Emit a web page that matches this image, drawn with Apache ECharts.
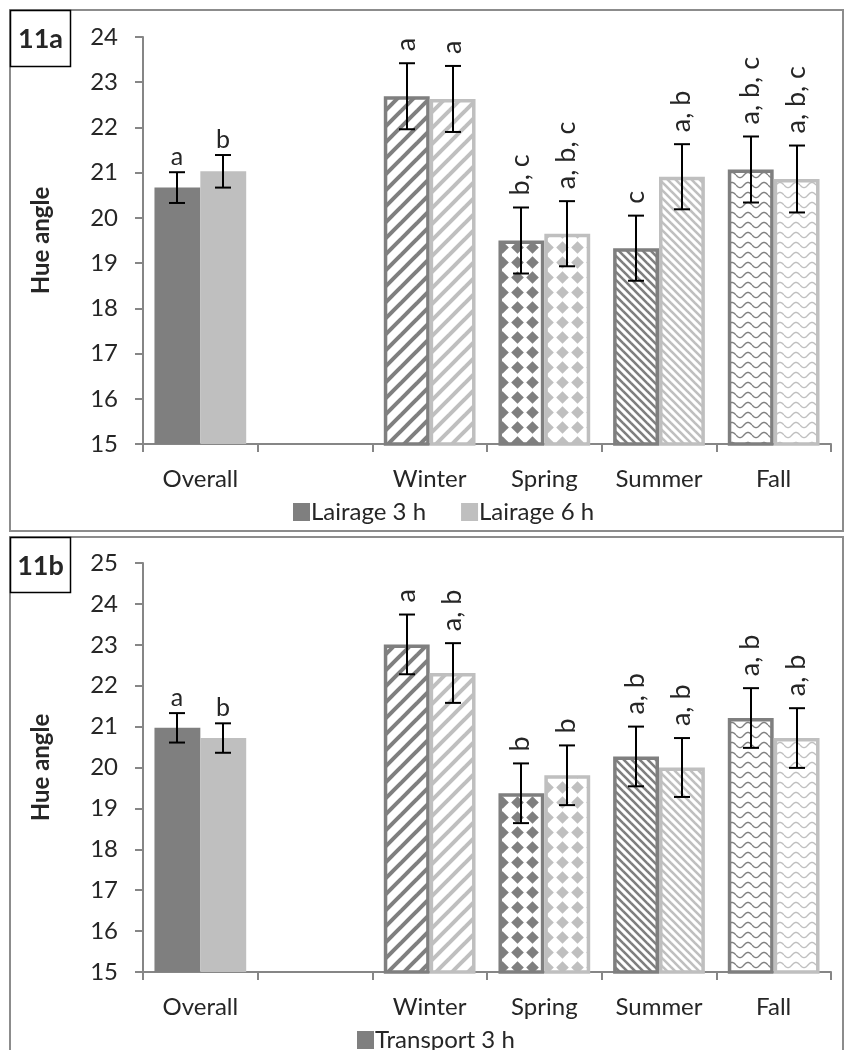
<!DOCTYPE html>
<html>
<head>
<meta charset="utf-8">
<script src="https://cdn.jsdelivr.net/npm/echarts@6/dist/echarts.min.js"></script>
<style>
  html, body { margin: 0; padding: 0; background: #ffffff; }
  #chart { width: 845px; height: 1050px; }
</style>
</head>
<body>
<div id="chart"></div>
<script>
// Categories (the empty slot separates the overall mean from the seasons)
const categories = ['Overall', '', 'Winter', 'Spring', 'Summer', 'Fall'];

// Fill style used for each category
const fillKinds = ['solid', null, 'wideUp', 'diamond', 'narrowDown', 'wave'];

// Panel 11a — lairage time
const lairage3 = [20.67, null, 22.69, 19.50, 19.33, 21.07];
const lairage3Err = [0.34, null, 0.73, 0.73, 0.72, 0.73];
const lairage3Letters = ['a', '', 'a', 'b, c', 'c', 'a, b, c'];
const lairage6 = [21.03, null, 22.63, 19.65, 20.91, 20.86];
const lairage6Err = [0.36, null, 0.73, 0.72, 0.72, 0.74];
const lairage6Letters = ['b', '', 'a', 'a, b, c', 'a, b', 'a, b, c'];

// Panel 11b — transport time
const transport3 = [20.97, null, 23.01, 19.37, 20.27, 21.21];
const transport3Err = [0.36, null, 0.73, 0.73, 0.73, 0.73];
const transport3Letters = ['a', '', 'a', 'b', 'a, b', 'a, b'];
const transport6 = [20.72, null, 22.31, 19.81, 20.00, 20.72];
const transport6Err = [0.36, null, 0.73, 0.73, 0.72, 0.73];
const transport6Letters = ['b', '', 'a, b', 'b', 'a, b', 'a, b'];

// Value axis ranges
const rangeA = [15, 24];
const rangeB = [15, 25];

const DARK = '#7f7f7f';
const LIGHT = '#bfbfbf';
const TEXT = '#262626';
const AXIS = '#868686';
const FONT = 'Lato';

// ---- hatch / pattern tiles ----
function makeTile(kind, color) {
  const c = document.createElement('canvas');
  let w = 16, h = 16;
  if (kind === 'narrowDown') { w = 8; h = 8; }
  if (kind === 'diamond') { w = 15; h = 15; }
  if (kind === 'wave') { w = 16; h = 10; }
  c.width = w; c.height = h;
  const g = c.getContext('2d');
  g.fillStyle = '#ffffff';
  g.fillRect(0, 0, w, h);
  g.strokeStyle = color;
  g.fillStyle = color;
  if (kind === 'wideUp') {
    g.lineWidth = 4;
    for (let k = -1; k <= 1; k++) {
      g.beginPath();
      g.moveTo(k * w - 2, h + 2);
      g.lineTo(k * w + w + 2, -2);
      g.stroke();
    }
  } else if (kind === 'narrowDown') {
    g.lineWidth = 2.6;
    for (let k = -1; k <= 1; k++) {
      g.beginPath();
      g.moveTo(k * w - 2, -2);
      g.lineTo(k * w + w + 2, h + 2);
      g.stroke();
    }
  } else if (kind === 'diamond') {
    const cx = w / 2, cy = h / 2, r = 6.3;
    g.beginPath();
    g.moveTo(cx, cy - r);
    g.lineTo(cx + r, cy);
    g.lineTo(cx, cy + r);
    g.lineTo(cx - r, cy);
    g.closePath();
    g.fill();
  } else if (kind === 'wave') {
    g.lineWidth = 1.4;
    g.beginPath();
    for (let x = 0; x <= w; x += 0.5) {
      const y = h / 2 + 2.6 * Math.sin((x / w) * Math.PI * 2);
      if (x === 0) g.moveTo(x, y); else g.lineTo(x, y);
    }
    g.stroke();
  }
  return c;
}

function barData(values, color) {
  return values.map((v, i) => {
    if (v == null) return null;
    const kind = fillKinds[i];
    if (kind === 'solid') {
      return { value: v, itemStyle: { color: color } };
    }
    return {
      value: v,
      itemStyle: {
        color: { image: makeTile(kind, color), repeat: 'repeat' },
        borderColor: color,
        borderWidth: 3.5
      }
    };
  });
}

// error bars with significance letters, drawn with a custom series
function errorSeries(values, errs, letters, side, xi) {
  const data = [];
  const labels = [];
  values.forEach((v, i) => {
    if (v == null) return;
    data.push([i, v, errs[i]]);
    labels.push(letters[i]);
  });
  return {
    type: 'custom',
    xAxisIndex: xi,
    yAxisIndex: xi,
    clip: false,
    z: 5,
    silent: true,
    data: data,
    renderItem: function (params, api) {
      const ci = api.value(0), v = api.value(1), e = api.value(2);
      const band = api.size([1, 0])[0];
      const x = Math.round(api.coord([ci, v])[0] + side * band * 0.2);
      const yTop = api.coord([ci, v + e])[1];
      const yBot = api.coord([ci, v - e])[1];
      const cap = 8;
      const line = { stroke: '#000000', lineWidth: 2 };
      const text = labels[params.dataIndex];
      const horizontal = categories[ci] === 'Overall';
      const children = [
        { type: 'line', shape: { x1: x, y1: yTop, x2: x, y2: yBot }, style: line },
        { type: 'line', shape: { x1: x - cap, y1: yTop, x2: x + cap, y2: yTop }, style: line },
        { type: 'line', shape: { x1: x - cap, y1: yBot, x2: x + cap, y2: yBot }, style: line }
      ];
      if (horizontal) {
        children.push({
          type: 'text', x: x, y: yTop - 3,
          style: { text: text, align: 'center', verticalAlign: 'bottom',
                   font: '25px ' + FONT, fill: TEXT }
        });
      } else {
        children.push({
          type: 'text', x: x - 1, y: yTop - 12, rotation: Math.PI / 2,
          style: { text: text, align: 'left', verticalAlign: 'middle',
                   font: '27px ' + FONT, fill: TEXT }
        });
      }
      return { type: 'group', children: children };
    }
  };
}

function xAxisFor(gi) {
  return {
    gridIndex: gi,
    type: 'category',
    data: categories,
    axisLine: { show: true, lineStyle: { color: AXIS, width: 2 } },
    axisTick: { show: true, length: 8, lineStyle: { color: AXIS, width: 2 } },
    axisLabel: { interval: 0, margin: 23, fontSize: 24, fontFamily: FONT, color: TEXT },
    splitLine: { show: false }
  };
}

function yAxisFor(gi, range) {
  return {
    gridIndex: gi,
    type: 'value',
    min: range[0],
    max: range[1],
    interval: 1,
    name: 'Hue angle',
    nameLocation: 'middle',
    nameGap: 90,
    nameTextStyle: { fontSize: 24, fontWeight: 'bold', fontFamily: FONT, color: TEXT },
    axisLine: { show: true, lineStyle: { color: AXIS, width: 2 } },
    axisTick: { show: true, length: 8, lineStyle: { color: AXIS, width: 2 } },
    axisLabel: { margin: 25, fontSize: 24, fontFamily: FONT, color: TEXT },
    splitLine: { show: false }
  };
}

function barSeries(name, values, color, xi) {
  return {
    name: name,
    type: 'bar',
    xAxisIndex: xi,
    yAxisIndex: xi,
    barGap: '0%',
    barCategoryGap: '20%',
    itemStyle: { color: color },
    emphasis: { disabled: true },
    data: barData(values, color)
  };
}

const chart = echarts.init(document.getElementById('chart'), null, { renderer: 'canvas' });

chart.setOption({
  animation: false,
  backgroundColor: '#ffffff',
  textStyle: { fontFamily: FONT },
  grid: [
    { left: 143, top: 37, width: 688, height: 407 },
    { left: 143, top: 563, width: 688, height: 409 }
  ],
  xAxis: [xAxisFor(0), xAxisFor(1)],
  yAxis: [yAxisFor(0, rangeA), yAxisFor(1, rangeB)],
  legend: [
    {
      data: ['Lairage 3 h', 'Lairage 6 h'],
      left: 293, top: 500, padding: 0,
      icon: 'rect', itemWidth: 17, itemHeight: 18, itemGap: 35,
      selectedMode: false,
      textStyle: { fontSize: 24, fontFamily: FONT, color: TEXT, padding: [0, 0, 0, -4] }
    },
    {
      data: ['Transport 3 h'],
      left: 357, top: 1028, padding: 0,
      icon: 'rect', itemWidth: 17, itemHeight: 18,
      selectedMode: false,
      textStyle: { fontSize: 24, fontFamily: FONT, color: TEXT, padding: [0, 0, 0, -4] }
    }
  ],
  graphic: [
    { type: 'rect', z: -10, shape: { x: 10, y: 10, width: 833, height: 521 },
      style: { fill: 'none', stroke: '#8c8c8c', lineWidth: 2 } },
    { type: 'rect', z: -10, shape: { x: 10, y: 537, width: 833, height: 540 },
      style: { fill: 'none', stroke: '#8c8c8c', lineWidth: 2 } },
    { type: 'rect', shape: { x: 10.5, y: 10.5, width: 60, height: 56 },
      style: { fill: '#ffffff', stroke: '#000000', lineWidth: 1.5 } },
    { type: 'text', x: 40.5, y: 39, style: { text: '11a', align: 'center', verticalAlign: 'middle',
      font: 'bold 27px ' + FONT, fill: TEXT } },
    { type: 'rect', shape: { x: 10.5, y: 537.5, width: 60, height: 55 },
      style: { fill: '#ffffff', stroke: '#000000', lineWidth: 1.5 } },
    { type: 'text', x: 40.5, y: 566, style: { text: '11b', align: 'center', verticalAlign: 'middle',
      font: 'bold 27px ' + FONT, fill: TEXT } }
  ],
  series: [
    barSeries('Lairage 3 h', lairage3, DARK, 0),
    barSeries('Lairage 6 h', lairage6, LIGHT, 0),
    errorSeries(lairage3, lairage3Err, lairage3Letters, -1, 0),
    errorSeries(lairage6, lairage6Err, lairage6Letters, 1, 0),
    barSeries('Transport 3 h', transport3, DARK, 1),
    barSeries('Transport 6 h', transport6, LIGHT, 1),
    errorSeries(transport3, transport3Err, transport3Letters, -1, 1),
    errorSeries(transport6, transport6Err, transport6Letters, 1, 1)
  ]
});
</script>
</body>
</html>
